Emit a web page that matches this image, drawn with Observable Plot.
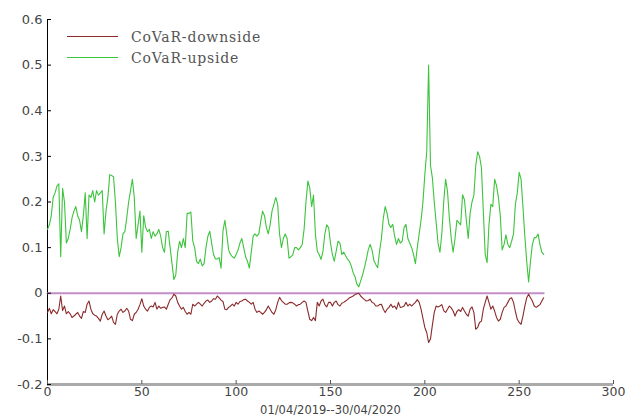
<!DOCTYPE html>
<html>
<head>
<meta charset="utf-8">
<script src="https://cdn.jsdelivr.net/npm/d3@7"></script>
<script src="https://cdn.jsdelivr.net/npm/@observablehq/plot@0.6"></script>
<style>
  html, body { margin: 0; padding: 0; background: #fff; }
  #wrap { position: relative; width: 630px; height: 415px; }
  #legend { position: absolute; left: 67px; top: 26px; font-family: "DejaVu Serif", "Liberation Serif", serif; font-size: 14px; color: #555; letter-spacing: 0.8px; }
  .item { display: flex; align-items: center; height: 21px; }
  .swatch { width: 51px; height: 0; border-top: 1.5px solid; margin-right: 13px; }
</style>
</head>
<body>
<div id="wrap"></div>
<script>
const xLabel = "01/04/2019--30/04/2020";
const seriesNames = ["CoVaR-downside", "CoVaR-upside"];
const seriesColors = ["#8b2a2a", "#3cc43c"];
const zeroColor = "#c48cc8";
const xTicks = [0, 50, 100, 150, 200, 250, 300];
const yTicks = [-0.2, -0.1, 0, 0.1, 0.2, 0.3, 0.4, 0.5, 0.6];

const upside = [
0.14,0.15,0.17,0.21,0.22,0.235,0.24,0.08,0.23,0.20,
0.11,0.12,0.14,0.165,0.18,0.19,0.17,0.16,0.135,0.17,
0.22,0.12,0.215,0.21,0.225,0.20,0.225,0.215,0.22,0.225,
0.13,0.18,0.21,0.26,0.258,0.255,0.20,0.12,0.08,0.10,
0.13,0.135,0.165,0.20,0.225,0.25,0.21,0.12,0.15,0.18,
0.09,0.17,0.145,0.135,0.14,0.12,0.135,0.125,0.13,0.14,
0.125,0.10,0.09,0.135,0.136,0.10,0.065,0.03,0.04,0.09,
0.114,0.10,0.12,0.10,0.175,0.175,0.178,0.115,0.10,0.07,
0.065,0.075,0.06,0.065,0.10,0.125,0.136,0.11,0.085,0.075,
0.075,0.078,0.055,0.136,0.16,0.13,0.095,0.085,0.08,0.077,
0.085,0.095,0.11,0.12,0.10,0.08,0.07,0.055,0.09,0.125,
0.13,0.125,0.13,0.157,0.18,0.17,0.145,0.13,0.15,0.18,
0.195,0.21,0.195,0.13,0.10,0.12,0.13,0.12,0.077,0.08,
0.084,0.10,0.10,0.095,0.10,0.107,0.14,0.20,0.246,0.231,
0.19,0.215,0.13,0.092,0.085,0.074,0.092,0.13,0.15,0.144,
0.11,0.085,0.07,0.092,0.114,0.11,0.085,0.09,0.082,0.075,
0.07,0.06,0.045,0.036,0.02,0.014,0.027,0.04,0.056,0.075,
0.095,0.107,0.095,0.072,0.063,0.056,0.092,0.12,0.165,0.19,
0.175,0.151,0.144,0.151,0.125,0.107,0.12,0.11,0.114,0.144,
0.151,0.12,0.11,0.10,0.085,0.065,0.10,0.13,0.16,0.20,
0.26,0.31,0.50,0.28,0.253,0.20,0.155,0.11,0.09,0.13,
0.20,0.25,0.224,0.165,0.12,0.09,0.12,0.16,0.155,0.15,
0.216,0.205,0.16,0.12,0.175,0.20,0.215,0.28,0.31,0.30,
0.275,0.18,0.085,0.067,0.15,0.195,0.19,0.25,0.236,0.21,
0.17,0.095,0.107,0.128,0.107,0.10,0.114,0.13,0.195,0.22,
0.265,0.25,0.19,0.125,0.07,0.025,0.07,0.107,0.122,0.122,
0.13,0.107,0.09,0.085
];

const downside = [
-0.042,-0.033,-0.045,-0.036,-0.040,-0.045,-0.035,-0.006,-0.038,-0.028,
-0.045,-0.040,-0.045,-0.053,-0.050,-0.046,-0.042,-0.050,-0.055,-0.040,
-0.042,-0.024,-0.017,-0.035,-0.045,-0.048,-0.050,-0.055,-0.061,-0.046,
-0.039,-0.050,-0.058,-0.055,-0.050,-0.064,-0.068,-0.046,-0.039,-0.035,
-0.042,-0.039,-0.033,-0.039,-0.057,-0.060,-0.046,-0.042,-0.035,-0.025,
-0.012,-0.028,-0.035,-0.039,-0.031,-0.028,-0.030,-0.020,-0.035,-0.028,
-0.033,-0.031,-0.030,-0.035,-0.024,-0.014,-0.010,-0.002,-0.006,-0.020,
-0.028,-0.035,-0.031,-0.040,-0.046,-0.042,-0.046,-0.024,-0.028,-0.024,
-0.020,-0.024,-0.028,-0.022,-0.017,-0.015,-0.020,-0.017,-0.012,-0.013,
-0.006,-0.010,-0.015,-0.018,-0.035,-0.036,-0.031,-0.028,-0.024,-0.028,
-0.020,-0.024,-0.018,-0.017,-0.014,-0.013,-0.017,-0.020,-0.024,-0.020,
-0.035,-0.042,-0.039,-0.042,-0.046,-0.042,-0.036,-0.028,-0.035,-0.042,
-0.046,-0.036,-0.020,-0.009,-0.016,-0.020,-0.024,-0.024,-0.021,-0.020,
-0.021,-0.024,-0.028,-0.025,-0.024,-0.020,-0.017,-0.020,-0.039,-0.057,
-0.060,-0.053,-0.060,-0.020,-0.028,-0.017,-0.013,-0.025,-0.030,-0.020,
-0.020,-0.028,-0.020,-0.017,-0.025,-0.028,-0.022,-0.020,-0.017,-0.014,
-0.010,-0.008,-0.006,-0.003,-0.001,0.000,-0.006,-0.010,-0.014,-0.017,
-0.016,-0.013,-0.020,-0.022,-0.028,-0.028,-0.025,-0.024,-0.035,-0.042,
-0.035,-0.031,-0.024,-0.031,-0.028,-0.035,-0.020,-0.031,-0.030,-0.028,
-0.020,-0.028,-0.024,-0.028,-0.024,-0.020,-0.014,-0.020,-0.035,-0.055,
-0.075,-0.086,-0.108,-0.100,-0.070,-0.042,-0.028,-0.030,-0.028,-0.025,
-0.038,-0.042,-0.035,-0.028,-0.032,-0.039,-0.050,-0.040,-0.036,-0.040,
-0.031,-0.039,-0.046,-0.050,-0.035,-0.030,-0.042,-0.079,-0.075,-0.064,
-0.061,-0.035,-0.020,-0.006,-0.020,-0.035,-0.028,-0.039,-0.053,-0.061,
-0.057,-0.042,-0.031,-0.028,-0.020,-0.012,-0.010,-0.020,-0.040,-0.057,
-0.064,-0.068,-0.050,-0.028,-0.010,-0.002,-0.010,-0.017,-0.028,-0.031,
-0.028,-0.025,-0.017,-0.010
];

const days = d3.range(upside.length);
const rows = days.map(i => ({t: i, up: upside[i], down: downside[i], zero: 0}));

const fmtY = d => d === 0 ? "0" : d.toFixed(1);

const chart = Plot.plot({
  width: 630,
  height: 415,
  marginLeft: 47,
  marginRight: 17,
  marginTop: 19,
  marginBottom: 31,
  style: { fontFamily: "DejaVu Sans, sans-serif", fontSize: "13px", color: "#444", background: "#fff" },
  x: { domain: [0, 300] },
  y: { domain: [-0.2, 0.6] },
  marks: [
    Plot.ruleX([0], { stroke: "#000", strokeWidth: 1 }),
    Plot.ruleY([-0.2], { stroke: "#aaa", strokeWidth: 3 }),
    Plot.line(rows, { x: "t", y: "zero", stroke: zeroColor, strokeWidth: 2 }),
    Plot.line(rows, { x: "t", y: "up", stroke: seriesColors[1], strokeWidth: 1.1 }),
    Plot.line(rows, { x: "t", y: "down", stroke: seriesColors[0], strokeWidth: 1.1 }),
    Plot.axisX(xTicks, { tickSize: -4, tickPadding: 7, label: null, stroke: "#555", fill: "#444", fontSize: 12.5, letterSpacing: "0.6px" }),
    Plot.axisY(yTicks, { tickSize: -4, tickPadding: 9, label: null, tickFormat: fmtY, stroke: "#000", fill: "#444", fontSize: 13, letterSpacing: "0.8px" }),
    Plot.text([xLabel], { frameAnchor: "bottom", dy: 29, fill: "#444", fontSize: 11.5, letterSpacing: "1px" })
  ]
});

const wrap = document.getElementById("wrap");
wrap.appendChild(chart);

const legend = document.createElement("div");
legend.id = "legend";
seriesNames.forEach((name, i) => {
  const item = document.createElement("div");
  item.className = "item";
  const sw = document.createElement("span");
  sw.className = "swatch";
  sw.style.borderTopColor = seriesColors[i];
  const label = document.createElement("span");
  label.textContent = name;
  item.appendChild(sw);
  item.appendChild(label);
  legend.appendChild(item);
});
wrap.appendChild(legend);
</script>
</body>
</html>
